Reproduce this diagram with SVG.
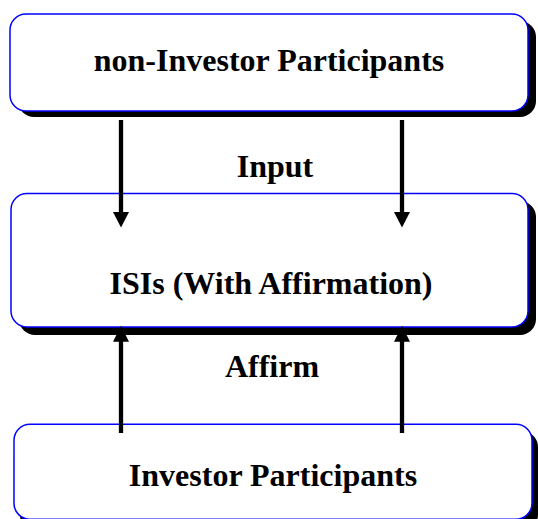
<svg xmlns="http://www.w3.org/2000/svg" width="538" height="519" viewBox="0 0 538 519">
<style>
.shadow{fill:#000}
.box{fill:#fff;stroke:#0000ff;stroke-width:1.5}
.lbl{font-family:"Liberation Serif","Times New Roman",serif;font-weight:bold;font-size:32px;fill:#000;text-anchor:middle}
.arr{stroke:#000;stroke-width:4.3;fill:none}
.head{fill:#000}
</style>
<rect width="538" height="519" fill="#fff"/>
<g id="node-non-investor">
<rect class="shadow" x="18" y="21" width="518" height="96" rx="16"/>
<rect class="box" x="10" y="14" width="518" height="97" rx="16"/>
<text class="lbl" x="269" y="71">non-Investor Participants</text>
</g>
<g id="node-isis">
<rect class="shadow" x="19" y="201" width="517" height="134" rx="16"/>
<rect class="box" x="11" y="193.5" width="517" height="133.5" rx="16"/>
<text class="lbl" x="271" y="294">ISIs (With Affirmation)</text>
</g>
<g id="node-investor">
<rect class="shadow" x="20" y="431" width="518" height="100" rx="16"/>
<rect class="box" x="14" y="424.3" width="518" height="95" rx="16"/>
<text class="lbl" x="273" y="486">Investor Participants</text>
</g>
<g id="connectors">
<line class="arr" x1="121" y1="120" x2="121" y2="214"/>
<polygon class="head" points="113,212 129,212 121,227.5"/>
<line class="arr" x1="402" y1="120" x2="402" y2="214"/>
<polygon class="head" points="394,212 410,212 402,227.5"/>
<text class="lbl" x="275" y="177">Input</text>
<line class="arr" x1="121" y1="433" x2="121" y2="340"/>
<polygon class="head" points="113,341.7 129,341.7 121,325.7"/>
<line class="arr" x1="402" y1="433" x2="402" y2="340"/>
<polygon class="head" points="394,341.7 410,341.7 402,325.7"/>
<text class="lbl" x="272" y="377">Affirm</text>
</g>
</svg>
